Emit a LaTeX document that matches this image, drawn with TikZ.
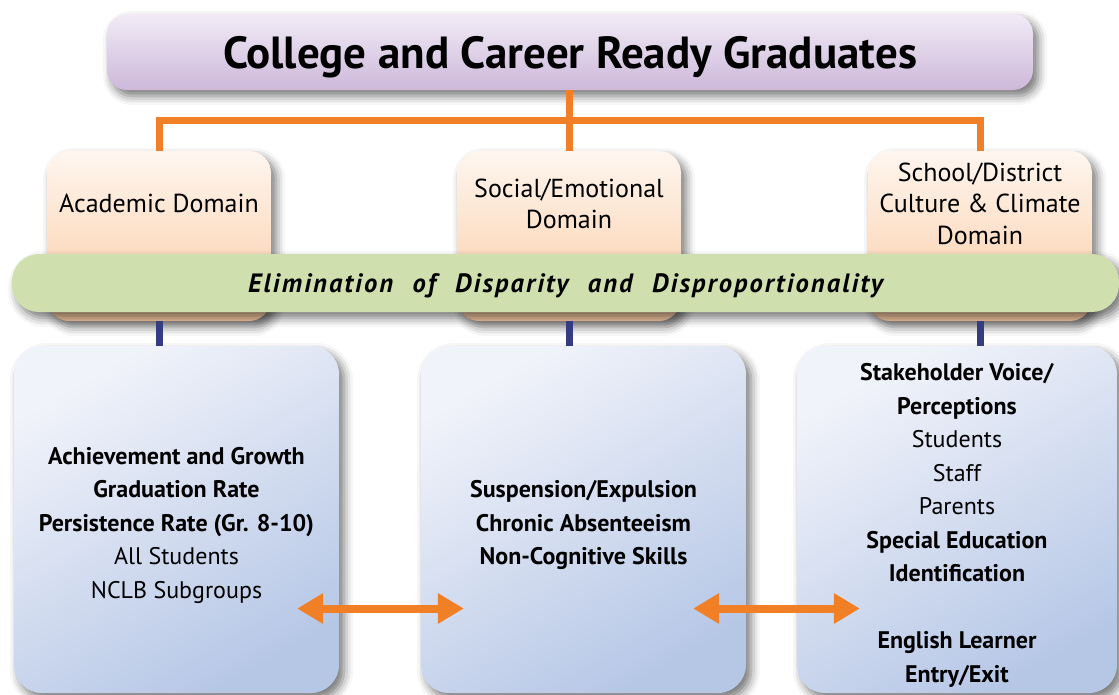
\documentclass[tikz,border=0pt]{standalone}
\usepackage{fontspec}
\setmainfont{PT Sans}
\newfontfamily\bandfont[WordSpace=2.2, LetterSpace=8]{PT Sans}
\usepackage{tikz}
\usetikzlibrary{positioning, shadows.blur, arrows.meta}
\definecolor{goaltop}{HTML}{F1EBF6}
\definecolor{goalbot}{HTML}{CDB8DA}
\definecolor{domtop}{HTML}{FEF6EF}
\definecolor{dombot}{HTML}{FBCBA3}
\definecolor{bandgreen}{HTML}{D0DFAE}
\definecolor{boxtop}{HTML}{F1F3FA}
\definecolor{boxbot}{HTML}{B6C7E6}
\definecolor{linkorange}{HTML}{F07F26}
\definecolor{feednavy}{HTML}{363C82}
\newcommand{\toplift}{\rule{0pt}{29pt}}
\tikzstyle{softshadow} = [blur shadow={shadow xshift=5pt, shadow yshift=-6pt, shadow blur radius=9pt, shadow opacity=55}]
\tikzstyle{goalbox} = [rectangle, rounded corners=20pt, minimum width=926pt, minimum height=76pt, inner sep=0pt, text depth=0pt, top color=goaltop, bottom color=goalbot, softshadow, font=\fontsize{45}{54}\selectfont\bfseries]
\tikzstyle{domainbox} = [rectangle, rounded corners=22pt, minimum width=224pt, minimum height=170pt, inner sep=0pt, top color=domtop, bottom color=dombot, softshadow]
\tikzstyle{domaintext} = [align=center, inner sep=0pt, font=\fontsize{26}{31.5}\selectfont]
\tikzstyle{bandbox} = [rectangle, rounded corners=27pt, minimum width=1107pt, minimum height=58pt, inner sep=0pt, text depth=0pt, fill=bandgreen, softshadow, font=\fontsize{26.5}{30}\bandfont\bfseries\itshape]
\tikzstyle{measures} = [rectangle, rounded corners=28pt, minimum height=347pt, inner sep=0pt, top color=boxtop, bottom color=boxbot, shading angle=30, softshadow, align=center, font=\fontsize{24}{33.5}\selectfont]
\tikzstyle{linkline} = [line width=7pt, draw=linkorange]
\tikzstyle{feedline} = [line width=7pt, draw=feednavy]
\tikzstyle{arrow} = [line width=8pt, draw=linkorange, {Triangle[width=29pt,length=26pt]}-{Triangle[width=29pt,length=26pt]}]

\begin{document}
\begin{tikzpicture}[x=1pt, y=-1pt]
\useasboundingbox (0,0) rectangle (1119,694);

\node (goal) [goalbox] at (570,52) {College and Career Ready Graduates};
\coordinate (hub) at (569,120);

\node (acad) [domainbox] at (159,236) {};
\node (social) [domainbox] at (569,236) {};
\node (school) [domainbox] at (980,236) {};
\node (acadtext) [domaintext] at ([yshift=-53pt]acad.north) {Academic Domain};
\node (socialtext) [domaintext] at ([yshift=-53pt]social.north) {Social/Emotional\\Domain};
\node (schooltext) [domaintext] at ([yshift=-53pt]school.north) {School/District\\Culture \& Climate\\Domain};

\draw [linkline] (acad.north) |- (hub) -| (school.north);
\draw [linkline] (social.north |- goal.south) -- (social.north);

\node (band) [bandbox] at (565.5,283) {Elimination of Disparity and Disproportionality};

\node (acadbox) [measures, minimum width=325pt] at (176.5,519.5) {\toplift\textbf{Achievement and Growth}\\\textbf{Graduation Rate}\\\textbf{Persistence Rate (Gr. 8-10)}\\All Students\\NCLB Subgroups};
\node (socialbox) [measures, minimum width=325pt] at (583.5,519.5) {\toplift\textbf{Suspension/Expulsion}\\\textbf{Chronic Absenteeism}\\\textbf{Non-Cognitive Skills}};
\node (schoolbox) [measures, minimum width=320pt] at (957,519.5) {\toplift\textbf{Stakeholder Voice/}\\\textbf{Perceptions}\\Students\\Staff\\Parents\\\textbf{Special Education}\\\textbf{Identification}\\\mbox{}\\\textbf{English Learner}\\\textbf{Entry/Exit}};

\draw [feedline] (acad.south) -- (acad.south |- acadbox.north);
\draw [feedline] (social.south) -- (social.south |- socialbox.north);
\draw [feedline] (school.south) -- (school.south |- schoolbox.north);

\draw [arrow] ([shift={(-42,89)}]acadbox.east) -- ([shift={(43,89)}]socialbox.west);
\draw [arrow] ([shift={(-53,89)}]socialbox.east) -- ([shift={(63,89)}]schoolbox.west);

\end{tikzpicture}
\end{document}
